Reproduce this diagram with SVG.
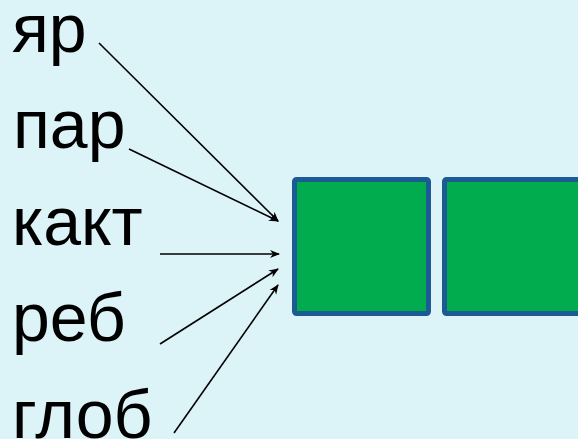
<svg xmlns="http://www.w3.org/2000/svg" width="578" height="439" viewBox="0 0 578 439">
<style>
.lbl{font-family:"Liberation Sans",Arial,sans-serif;font-size:68px;fill:#000}
.box{fill:#00AC4E;stroke:#1B5A93;stroke-width:5}
.con{stroke:#000;stroke-width:1.6;fill:none;marker-end:url(#ah)}
</style>
<defs>
<marker id="ah" viewBox="0 0 10 10" refX="9" refY="5" markerWidth="10" markerHeight="10" markerUnits="userSpaceOnUse" orient="auto">
<path d="M0,1 L10,5 L0,9 L3,5 Z" fill="#000"/>
</marker>
</defs>
<rect x="0" y="0" width="578" height="439" fill="#DCF4F8"/>
<g id="n-yar"><text class="lbl" x="12" y="52">яр</text></g>
<g id="n-par"><text class="lbl" x="13" y="148">пар</text></g>
<g id="n-kakt"><text class="lbl" x="12" y="245">какт</text></g>
<g id="n-reb"><text class="lbl" x="12" y="341">реб</text></g>
<g id="n-glob"><text class="lbl" x="12" y="438">глоб</text></g>
<g id="n-box1"><rect class="box" x="294.5" y="179.5" width="134" height="134" rx="2"/></g>
<g id="n-box2"><rect class="box" x="444.5" y="179.5" width="140" height="134" rx="2"/></g>
<g id="connectors">
<line class="con" x1="99" y1="43" x2="278" y2="221"/>
<line class="con" x1="129" y1="149" x2="278" y2="221"/>
<line class="con" x1="160" y1="254" x2="279" y2="254"/>
<line class="con" x1="160" y1="344" x2="278" y2="269"/>
<line class="con" x1="174" y1="433" x2="278" y2="285"/>
</g>
</svg>
